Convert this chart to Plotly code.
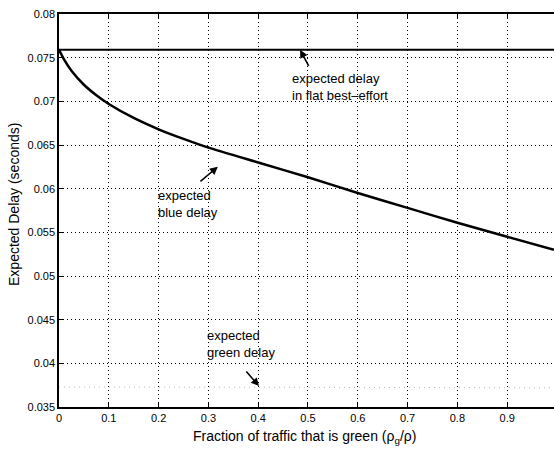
import plotly.graph_objects as go

# Data
frac = [0.0, 0.01, 0.025, 0.05, 0.075, 0.1, 0.15, 0.2, 0.25, 0.3, 0.4, 0.5, 0.6, 0.7, 0.8, 0.9, 0.994]
blue_delay = [0.0759, 0.0748, 0.0735, 0.0719, 0.0707, 0.0697, 0.0681, 0.0668, 0.0657, 0.0647, 0.0630, 0.0613, 0.0595, 0.0578, 0.0561, 0.0545, 0.0530]
flat_x = [0.0, 0.994]
flat_delay = [0.0759, 0.0759]
green_x = [0.0, 0.994]
green_delay = [0.0373, 0.0372]

x_ticks = [0, 0.1, 0.2, 0.3, 0.4, 0.5, 0.6, 0.7, 0.8, 0.9]
x_ticklabels = ["0", "0.1", "0.2", "0.3", "0.4", "0.5", "0.6", "0.7", "0.8", "0.9"]
y_ticks = [0.035, 0.04, 0.045, 0.05, 0.055, 0.06, 0.065, 0.07, 0.075, 0.08]
y_ticklabels = ["0.035", "0.04", "0.045", "0.05", "0.055", "0.06", "0.065", "0.07", "0.075", "0.08"]

FONT = "Liberation Sans, Arial, Helvetica, sans-serif"
GRID_DASH = "1px,3px"

fig = go.Figure()
fig.add_trace(go.Scatter(x=green_x, y=green_delay, mode="lines",
                         line=dict(color="#b8b8b8", width=1, dash="1px,4px"), showlegend=False))
fig.add_trace(go.Scatter(x=flat_x, y=flat_delay, mode="lines",
                         line=dict(color="black", width=2), showlegend=False))
fig.add_trace(go.Scatter(x=frac, y=blue_delay, mode="lines", line_shape="spline",
                         line=dict(color="black", width=2.5, smoothing=0.5), showlegend=False))

# text labels
labels = [
    (0.463, 0.07164, "expected delay<br>in flat best\u2013effort"),
    (0.194, 0.05822, "expected<br>blue delay"),
    (0.293, 0.04217, "expected<br>green delay"),
]
for x, y, t in labels:
    fig.add_annotation(x=x, y=y, text=t, showarrow=False, xanchor="left", yanchor="middle",
                       align="left", font=dict(family=FONT, size=13, color="black"))

# arrows (head x,y ; tail ax,ay)
arrows = [
    (0.484, 0.0759, 0.503, 0.0739),
    (0.319, 0.06252, 0.281, 0.06069),
    (0.4016, 0.0374, 0.3735, 0.03924),
]
for x, y, ax, ay in arrows:
    fig.add_annotation(x=x, y=y, ax=ax, ay=ay, axref="x", ayref="y", text="",
                       showarrow=True, arrowhead=2, arrowsize=1, arrowwidth=1.6,
                       arrowcolor="black")

# axis titles as annotations
fig.add_annotation(xref="paper", yref="paper", x=0, y=0.514, xshift=-45,
                   text="Expected Delay (seconds)", textangle=-90, showarrow=False,
                   xanchor="center", yanchor="middle", font=dict(family=FONT, size=14))
fig.add_annotation(xref="paper", yref="paper", x=0.495, y=0, yshift=-30,
                   text="Fraction of traffic that is green (\u03c1<sub>g</sub>/\u03c1)",
                   showarrow=False, xanchor="center", yanchor="middle",
                   font=dict(family=FONT, size=14))

fig.update_layout(
    width=554, height=449,
    margin=dict(l=59, r=0, t=14, b=42),
    paper_bgcolor="white", plot_bgcolor="white",
    font=dict(family=FONT, size=11, color="black"),
    showlegend=False,
)
fig.update_xaxes(
    range=[0, 0.994], tickmode="array", tickvals=x_ticks, ticktext=x_ticklabels,
    showgrid=True, gridcolor="black", gridwidth=1, griddash=GRID_DASH,
    showline=True, linecolor="black", linewidth=1.5, mirror="ticks",
    ticks="inside", ticklen=5, tickcolor="black", zeroline=False,
    automargin=False, tickfont=dict(family=FONT, size=11),
)
fig.update_yaxes(
    range=[0.035, 0.08], tickmode="array", tickvals=y_ticks, ticktext=y_ticklabels,
    showgrid=True, gridcolor="black", gridwidth=1, griddash=GRID_DASH,
    showline=True, linecolor="black", linewidth=1.5, mirror=False,
    ticks="inside", ticklen=5, tickcolor="black", zeroline=False,
    automargin=False, tickfont=dict(family=FONT, size=11),
)

fig.write_html("out.html", config={"displayModeBar": False},
               post_script="document.body.style.margin='0';document.body.style.overflow='hidden';")
